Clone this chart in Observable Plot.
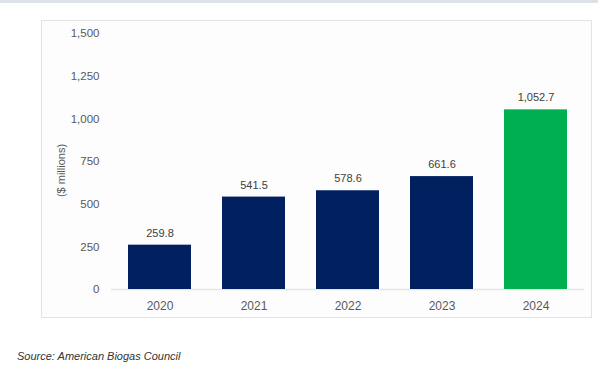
<!DOCTYPE html>
<html>
<head>
<meta charset="utf-8">
<script src="https://cdn.jsdelivr.net/npm/d3@7"></script>
<script src="https://cdn.jsdelivr.net/npm/@observablehq/plot@0.6"></script>
<style>
  html, body { margin: 0; padding: 0; background: #ffffff; width: 598px; height: 371px; overflow: hidden; font-family: Arial, "Liberation Sans", sans-serif; }
  #topbar { position: absolute; left: 0; top: 0; width: 598px; height: 3px; background: #dde1e8; }
  #box { position: absolute; left: 41px; top: 20px; width: 549px; height: 296px; border: 1px solid #e3e3e3; background: #fdfdfd; }
  #box svg { display: block; }
  #source { position: absolute; left: 17px; top: 350px; font-size: 11px; font-style: italic; color: #333333; }
</style>
</head>
<body>
<div id="topbar"></div>
<div id="box"></div>
<div id="source">Source: American Biogas Council</div>
<script>
const years = ["2020", "2021", "2022", "2023", "2024"];
const values = [259.8, 541.5, 578.6, 661.6, 1052.7];
const barColors = ["#002060", "#002060", "#002060", "#002060", "#00B050"];
const yTicks = [0, 250, 500, 750, 1000, 1250, 1500];
const yLabel = "($ millions)";

const data = years.map((y, i) => ({year: y, value: values[i], color: barColors[i]}));

const chart = Plot.plot({
  width: 549,
  height: 296,
  marginLeft: 69,
  marginRight: 7,
  marginTop: 12,
  marginBottom: 28,
  style: {fontFamily: "Arial, 'Liberation Sans', sans-serif", background: "transparent"},
  x: {domain: years, paddingInner: 0.33, paddingOuter: 0.17, label: null},
  y: {domain: [0, 1500], label: null},
  marks: [
    Plot.ruleY([0], {stroke: "#e6e6e6", strokeWidth: 1.5}),
    Plot.barY(data, {x: "year", y: "value", fill: "color"}),
    Plot.text(data, {x: "year", y: "value", text: d => d3.format(",.1f")(d.value), dy: -12, fontSize: 11, fill: "#404040"}),
    Plot.axisY({ticks: yTicks, tickFormat: d3.format(","), tickSize: 0, tickPadding: 12, fontSize: 11.5, color: "#595959", label: null}),
    Plot.axisX({tickSize: 0, tickPadding: 12, fontSize: 12, color: "#595959", label: null}),
    Plot.text([yLabel], {frameAnchor: "left", textAnchor: "middle", text: d => d, rotate: -90, dx: -50, dy: 9, fontSize: 11, fill: "#595959"})
  ]
});
document.getElementById("box").appendChild(chart);
</script>
</body>
</html>
